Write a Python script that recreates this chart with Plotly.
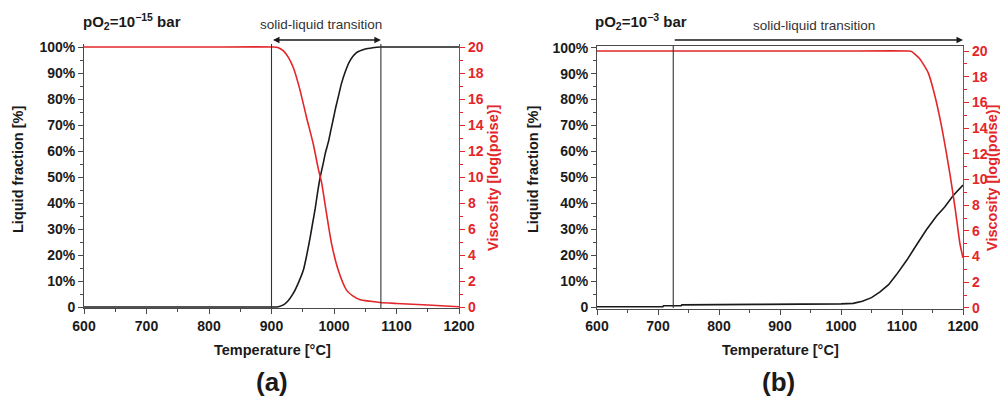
import plotly.graph_objects as go

# ---------------- data ----------------
# Panel (a): pO2 = 1e-15 bar
temp_a_lf = [600, 700, 800, 900, 905, 911, 919, 927, 935, 943, 951, 956, 962, 966, 970, 974,
             978, 983, 986, 991, 995, 999, 1003, 1007, 1012, 1018, 1025, 1036, 1050, 1062,
             1074, 1100, 1150, 1200]
liquid_a = [0, 0, 0, 0, 0, 0.1, 0.8, 2.5, 5.3, 9.3, 14.2, 19.5, 27, 32.5, 38, 44.5,
            50, 55.5, 59, 63.5, 68, 72.5, 77, 81, 86, 90.5, 94.5, 97.8, 99.2, 99.7,
            100, 100, 100, 100]

temp_a_v = [600, 700, 800, 903, 911, 919, 927, 935, 945, 956, 967, 975, 980, 988, 996,
            1007, 1020, 1030, 1042, 1074, 1100, 1150, 1200]
visc_a = [20, 20, 20, 20, 19.95, 19.7, 19.2, 18.4, 16.8, 14.6, 12.5, 10.6, 9.6, 7.2, 4.9,
          2.8, 1.3, 0.85, 0.55, 0.35, 0.27, 0.15, 0.02]

# Panel (b): pO2 = 1e-3 bar
temp_b_lf = [600, 708, 709, 738, 739, 860, 862, 1000, 1020, 1035, 1050, 1064, 1078, 1091,
             1108, 1124, 1140, 1157, 1170, 1184, 1200]
liquid_b = [0.1, 0.1, 0.5, 0.5, 0.8, 0.8, 1.0, 1.2, 1.4, 2.2, 3.6, 5.8, 8.6, 12.5,
            18.1, 24, 29.8, 35.2, 38.6, 43, 47]

temp_b_v = [600, 800, 1000, 1110, 1116, 1129, 1143, 1154, 1165, 1173, 1179, 1187, 1195, 1200]
visc_b = [20, 20, 20, 20, 19.95, 19.4, 18.3, 16.5, 14.1, 12.0, 10.3, 7.8, 5.0, 3.9]

x_ticks = [600, 700, 800, 900, 1000, 1100, 1200]
lf_ticks = [0, 10, 20, 30, 40, 50, 60, 70, 80, 90, 100]
lf_labels = ["0", "10%", "20%", "30%", "40%", "50%", "60%", "70%", "80%", "90%", "100%"]
visc_ticks = [0, 2, 4, 6, 8, 10, 12, 14, 16, 18, 20]

transition_a = [900, 1075]
transition_b = [725, 1200]

# ---------------- layout helpers ----------------
W, H = 1000, 403
def px_x(p):
    return p / W
def px_y(p):
    return 1 - p / H

BLACK = "#1a1a1a"
RED = "#e3262a"
AXGRAY = "#4a4a4a"
FONT = "Liberation Sans"

fig = go.Figure()
fig.add_trace(go.Scatter(x=temp_a_lf, y=liquid_a, mode="lines", xaxis="x", yaxis="y",
                         line=dict(color=BLACK, width=1.6, shape="spline", smoothing=0.6),
                         showlegend=False))
fig.add_trace(go.Scatter(x=temp_a_v, y=visc_a, mode="lines", xaxis="x", yaxis="y2",
                         line=dict(color=RED, width=1.6, shape="spline", smoothing=0.6),
                         showlegend=False))
fig.add_trace(go.Scatter(x=temp_b_lf, y=liquid_b, mode="lines", xaxis="x2", yaxis="y3",
                         line=dict(color=BLACK, width=1.6), showlegend=False))
fig.add_trace(go.Scatter(x=temp_b_v, y=visc_b, mode="lines", xaxis="x2", yaxis="y4",
                         line=dict(color=RED, width=1.6, shape="spline", smoothing=0.5),
                         showlegend=False))

tickfont = dict(family=FONT, size=14, color=BLACK, weight="bold")
redfont = dict(family=FONT, size=14, color=RED, weight="bold")

def xaxis(dom, anchor, mirror):
    return dict(domain=dom, anchor=anchor, range=[600, 1200], tickvals=x_ticks,
                ticks="outside", ticklen=5, tickwidth=1, tickcolor=AXGRAY,
                showline=True, linecolor=AXGRAY, linewidth=1, mirror=mirror,
                showgrid=False, zeroline=False, tickfont=tickfont, automargin=False,
                minor=dict(dtick=50, tick0=600, ticks="outside", ticklen=3, tickcolor=AXGRAY))

def yleft(dom, anchor, rng):
    return dict(domain=dom, anchor=anchor, range=rng, tickvals=lf_ticks, ticktext=lf_labels,
                ticks="outside", ticklen=5, tickwidth=1, tickcolor=AXGRAY,
                showline=True, linecolor=AXGRAY, linewidth=1, automargin=False,
                showgrid=False, zeroline=False, tickfont=tickfont,
                minor=dict(dtick=5, tick0=0, ticks="outside", ticklen=3, tickcolor=AXGRAY))

def yright(overlay, anchor, rng):
    return dict(overlaying=overlay, anchor=anchor, side="right", range=rng, tickvals=visc_ticks,
                ticks="outside", ticklen=5, tickwidth=1, tickcolor=RED,
                showline=True, linecolor=RED, linewidth=1.2, automargin=False,
                showgrid=False, zeroline=False, tickfont=redfont,
                minor=dict(dtick=1, tick0=0, ticks="outside", ticklen=3, tickcolor=RED))

dom_xa = [px_x(84), px_x(459)]
dom_ya = [px_y(308.3), px_y(44.4)]
dom_xb = [px_x(597), px_x(963)]
dom_yb = [px_y(308.5), px_y(46)]

fig.update_layout(
    template="none",
    width=W, height=H, margin=dict(l=0, r=0, t=0, b=0, pad=0), autosize=False,
    paper_bgcolor="white", plot_bgcolor="white",
    xaxis=xaxis(dom_xa, "y", False),
    yaxis=yleft(dom_ya, "x", [-0.5, 101]),
    yaxis2=yright("y", "x", [-0.1, 20.2]),
    xaxis2=xaxis(dom_xb, "y3", True),
    yaxis3=yleft(dom_yb, "x2", [-0.58, 100.66]),
    yaxis4=yright("y3", "x2", [-0.04, 20.39]),
    font=dict(family=FONT, color=BLACK),
)

shapes = []
for t in transition_a:
    shapes.append(dict(type="line", xref="x", yref="paper", x0=t, x1=t,
                       y0=px_y(308), y1=px_y(44), line=dict(color="#333333", width=1.1)))
shapes.append(dict(type="line", xref="x2", yref="paper", x0=transition_b[0], x1=transition_b[0],
                   y0=px_y(308), y1=px_y(46), line=dict(color="#333333", width=1.1)))
fig.update_layout(shapes=shapes)

ann = []
# arrows
ann.append(dict(x=transition_a[1], y=px_y(40), xref="x", yref="paper",
                ax=transition_a[0], ay=0, axref="x", ayref="pixel", text="",
                showarrow=True, arrowhead=2, startarrowhead=2, arrowside="end+start",
                arrowsize=1, arrowwidth=1.3, arrowcolor=BLACK, standoff=0, startstandoff=0))
ann.append(dict(x=transition_b[1], y=px_y(40), xref="x2", yref="paper",
                ax=transition_b[0], ay=0, axref="x2", ayref="pixel", text="",
                showarrow=True, arrowhead=2, arrowside="end",
                arrowsize=1, arrowwidth=1.3, arrowcolor=BLACK, standoff=0, startstandoff=0))

def label(x, y, text, font, angle=0, xanchor="center"):
    return dict(x=px_x(x), y=px_y(y), xref="paper", yref="paper", text=text,
                showarrow=False, font=font, textangle=angle,
                xanchor=xanchor, yanchor="middle")

small = dict(family=FONT, size=13.5, color="#333333")
cond = dict(family=FONT, size=15, color=BLACK, weight="bold")
titlefont = dict(family=FONT, size=14.5, color=BLACK, weight="bold")
titlered = dict(family=FONT, size=14.5, color=RED, weight="bold")
letter = dict(family=FONT, size=26, color=BLACK, weight="bold")

ann += [
    label(321, 24, "solid-liquid transition", small),
    label(814, 26, "solid-liquid transition", small),
    label(81, 22, "pO<sub>2</sub>=10<sup>\u221215</sup> bar", cond, xanchor="left"),
    label(593, 22, "pO<sub>2</sub>=10<sup>\u22123</sup> bar", cond, xanchor="left"),
    label(272, 350, "Temperature [\u00b0C]", titlefont),
    label(780, 350, "Temperature [\u00b0C]", titlefont),
    label(18, 170, "Liquid fraction [%]", titlefont, angle=-90),
    label(533, 170, "Liquid fraction [%]", titlefont, angle=-90),
    label(493, 178, "Viscosity [log(poise)]", titlered, angle=-90),
    label(992, 178, "Viscosity [log(poise)]", titlered, angle=-90),
    label(272, 382, "(a)", letter),
    label(778, 382, "(b)", letter),
]
fig.update_layout(annotations=ann)

fig.write_html("out.html", config={"displayModeBar": False},
               post_script="document.body.style.margin='0';")
